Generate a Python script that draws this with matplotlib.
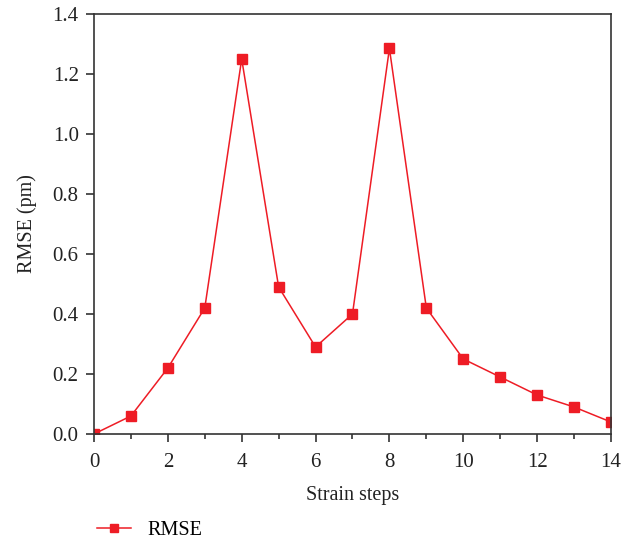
import matplotlib
matplotlib.use("Agg")
import matplotlib.pyplot as plt
from matplotlib.ticker import MultipleLocator, FormatStrFormatter
from matplotlib.lines import Line2D

plt.rcParams['font.family'] = ['Liberation Serif', 'DejaVu Serif']

steps = list(range(15))
rmse = [0.0, 0.06, 0.22, 0.42, 1.25, 0.49, 0.29, 0.40, 1.285, 0.42, 0.25, 0.19, 0.13, 0.09, 0.04]

red = '#ee1c25'
fig = plt.figure(figsize=(6.33, 5.44), dpi=100)
ax = fig.add_axes([0.1485, 0.2022, 0.8167, 0.7721])

ax.plot(steps, rmse, color=red, linewidth=1.1, marker='s', markersize=7,
        markerfacecolor=red, markeredgecolor=red)

ax.set_xlim(0, 14)
ax.set_ylim(0, 1.4)
ax.xaxis.set_major_locator(MultipleLocator(2))
ax.xaxis.set_minor_locator(MultipleLocator(1))
ax.yaxis.set_major_locator(MultipleLocator(0.2))
ax.yaxis.set_major_formatter(FormatStrFormatter('%.1f'))

ax.tick_params(axis='both', which='major', direction='out', length=6, width=1.2,
               labelsize=15, colors='#333333', labelcolor='#222222', pad=5)
ax.tick_params(axis='x', which='major', pad=8)
ax.tick_params(axis='x', which='minor', direction='out', length=3.5, width=1.2,
               colors='#333333')
ax.tick_params(top=False, right=False, which='both')
for s in ax.spines.values():
    s.set_linewidth(1.2)
    s.set_color('#333333')

ax.set_xlabel('Strain steps', fontsize=14.5, color='#222222', labelpad=10)
ax.set_ylabel('RMSE (pm)', fontsize=14.5, color='#222222', labelpad=11)

handle = Line2D([], [], color=red, linewidth=1.1, marker='s', markersize=6,
                markerfacecolor=red, markeredgecolor=red)
fig.legend(handles=[handle], labels=['RMSE'], loc='center left',
           bbox_to_anchor=(0.125, 0.024), frameon=False, fontsize=14.5,
           handlelength=1.7, handletextpad=0.8)

fig.savefig('out.png', dpi=100)
